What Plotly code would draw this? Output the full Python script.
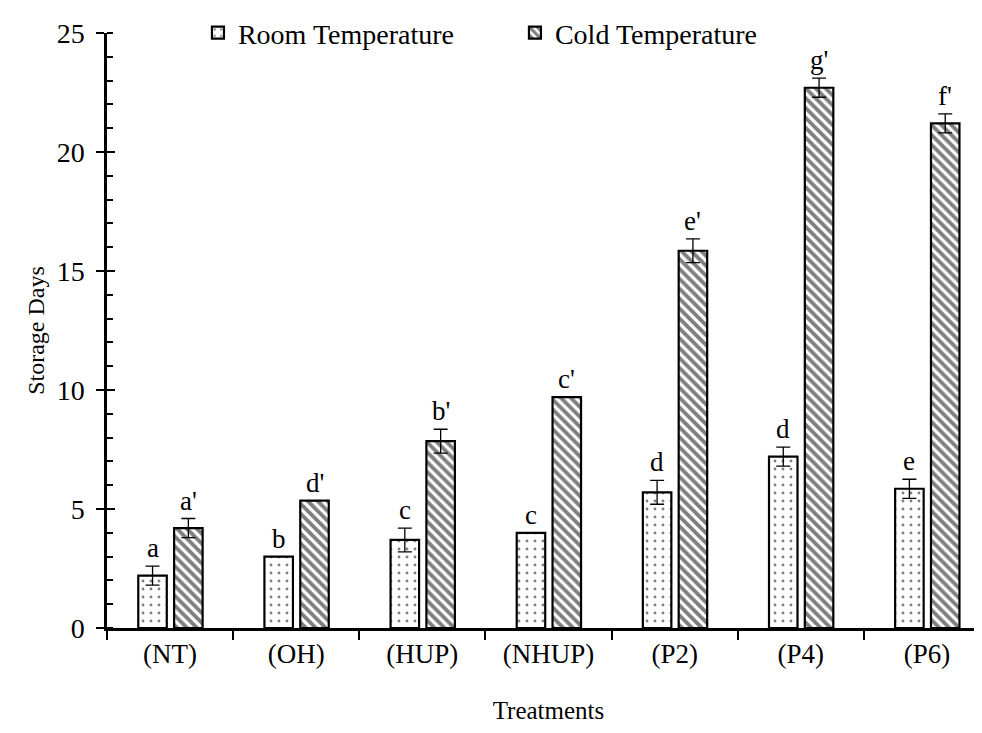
import plotly.graph_objects as go

# ─── Data ───────────────────────────────────────────
treatments = ["(NT)", "(OH)", "(HUP)", "(NHUP)", "(P2)", "(P4)", "(P6)"]

room_days = [2.2, 3.0, 3.7, 4.0, 5.7, 7.2, 5.85]
room_err = [0.4, 0.0, 0.5, 0.0, 0.5, 0.4, 0.4]
room_letters = ["a", "b", "c", "c", "d", "d", "e"]

cold_days = [4.2, 5.35, 7.85, 9.7, 15.85, 22.7, 21.2]
cold_err = [0.4, 0.0, 0.5, 0.0, 0.5, 0.4, 0.4]
cold_letters = ["a'", "d'", "b'", "c'", "e'", "g'", "f'"]

FONT = "Liberation Serif, Times New Roman, serif"
BAR_W = 0.226
ROOM_OFF = -0.252
COLD_OFF = 0.032

fig = go.Figure()

fig.add_trace(go.Bar(
    name="Room Temperature",
    x=treatments, y=room_days,
    width=BAR_W, offset=ROOM_OFF,
    marker=dict(
        color="white",
        line=dict(color="black", width=2.2),
        pattern=dict(shape=".", size=8, solidity=0.1, fgcolor="black", bgcolor="white"),
    ),
    error_y=dict(type="data", array=room_err, color="black", thickness=1.3, width=7),
))

fig.add_trace(go.Bar(
    name="Cold Temperature",
    x=treatments, y=cold_days,
    width=BAR_W, offset=COLD_OFF,
    marker=dict(
        color="white",
        line=dict(color="black", width=2.2),
        pattern=dict(shape="\\", size=7, solidity=0.55, fgcolor="black", bgcolor="white"),
    ),
    error_y=dict(type="data", array=cold_err, color="black", thickness=1.3, width=7),
))

# invisible trace so the overlay axis (major ticks inside) is drawn
fig.add_trace(go.Scatter(x=treatments, y=room_days, yaxis="y2", mode="markers",
                         marker=dict(opacity=0), showlegend=False, hoverinfo="skip"))

# significance letters
annotations = []
for i in range(len(treatments)):
    for vals, errs, letters, off in [
        (room_days, room_err, room_letters, ROOM_OFF),
        (cold_days, cold_err, cold_letters, COLD_OFF),
    ]:
        annotations.append(dict(
            x=i + off + BAR_W / 2, y=vals[i] + errs[i],
            xref="x", yref="y", text=letters[i], showarrow=False,
            yanchor="bottom", yshift=1,
            font=dict(family=FONT, size=27, color="black"),
        ))

fig.update_layout(
    width=982, height=733,
    paper_bgcolor="white", plot_bgcolor="white",
    font=dict(family=FONT, size=28, color="black"),
    margin=dict(l=99, r=0, t=24, b=113),
    barmode="overlay",
    showlegend=True,
    legend=dict(
        orientation="h", x=0.103, y=1.0, xanchor="left", yanchor="middle",
        font=dict(family=FONT, size=28), bgcolor="rgba(0,0,0,0)",
        itemwidth=30, entrywidth=272,
    ),
    annotations=annotations,
    xaxis=dict(
        range=[-0.5, 6.5],
        showline=True, linecolor="black", linewidth=2.5,
        ticks="outside", ticklen=9, tickwidth=2, tickcolor="black",
        tickson="boundaries",
        tickfont=dict(family=FONT, size=27),
        title=dict(text="Treatments", font=dict(family=FONT, size=25), standoff=34),
        showgrid=False, zeroline=False,
    ),
    yaxis=dict(
        range=[0, 25], dtick=5,
        showline=True, linecolor="black", linewidth=2.5,
        ticks="outside", ticklen=8, tickwidth=2, tickcolor="black",
        minor=dict(dtick=1, ticks="inside", ticklen=6, tickwidth=1.5, tickcolor="black"),
        tickfont=dict(family=FONT, size=28),
        ticklabelstandoff=6,
        title=dict(text="Storage Days", font=dict(family=FONT, size=24), standoff=6),
        showgrid=False, zeroline=False,
    ),
    yaxis2=dict(
        range=[0, 25], dtick=5, overlaying="y", side="left",
        ticks="inside", ticklen=8, tickwidth=2, tickcolor="black",
        showticklabels=False, showgrid=False, zeroline=False, showline=False,
    ),
)

fig.write_html("out.html")
